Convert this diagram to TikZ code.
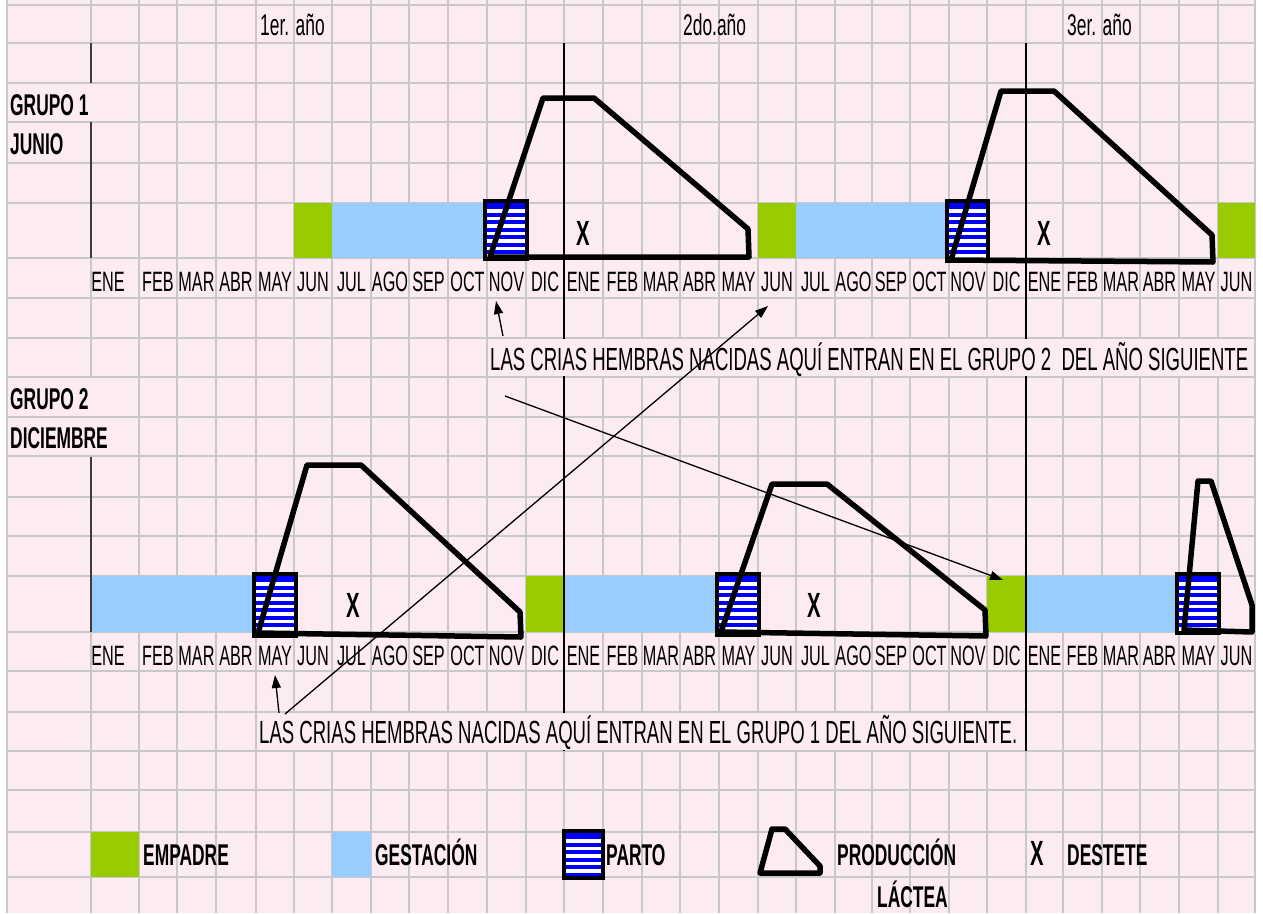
\documentclass[tikz,border=0pt]{standalone}
\usepackage{fontspec}
\setmainfont{Liberation Sans}[FakeStretch=0.58]
\usetikzlibrary{arrows.meta}

\definecolor{sheetpink}{RGB}{253,235,243}
\definecolor{gridgrey}{RGB}{200,200,200}
\definecolor{empadre}{RGB}{153,204,0}
\definecolor{gestacion}{RGB}{153,204,255}
\definecolor{partoblue}{RGB}{0,0,255}
\definecolor{axisgrey}{RGB}{60,60,60}

\tikzset{
  gridline/.style={draw=gridgrey, line width=1.5pt},
  lbl/.style={anchor=base west, inner sep=0pt, font=\fontsize{32}{32}\selectfont},
  mes/.style={anchor=base, inner sep=0pt, font=\fontsize{28}{28}\selectfont},
  grp/.style={anchor=base west, inner sep=0pt, font=\bfseries\fontsize{30}{30}\selectfont},
  anio/.style={anchor=base west, inner sep=0pt, font=\fontsize{30}{30}\selectfont},
  destete/.style={anchor=base, inner sep=0pt, font=\bfseries\fontsize{35}{35}\selectfont},
  leyenda/.style={anchor=base west, inner sep=0pt, font=\bfseries\fontsize{30}{30}\selectfont},
  lactea/.style={draw=black, line width=5.5pt, line join=round},
  flecha/.style={draw=black, line width=1.3pt, -{Triangle[length=13pt,width=9pt]}},
  divisor/.style={draw=black, line width=2pt},
  eje/.style={draw=axisgrey, line width=1.5pt},
  tapa/.style={fill=sheetpink},
}

% striped calving box: x1 y1 x2 y2
\newcommand{\partobox}[4]{%
  \begin{scope}
    \clip (#1,#2) rectangle (#3,#4);
    \fill[partoblue] (#1,#2) rectangle (#3,#4);
    \foreach \k in {0,...,8}
      \fill[white] (#1,#2+8+7.5*\k) rectangle (#3,#2+11.5+7.5*\k);
  \end{scope}
  \draw[line width=4pt] (#1,#2) rectangle (#3,#4);
}

\begin{document}
\begin{tikzpicture}[x=1pt,y=-1pt]
\useasboundingbox (0,0) rectangle (1263,913);

% sheet background
\fill[sheetpink] (0,0) rectangle (1263,913);
\fill[white] (0,0) rectangle (6,913);
\fill[white] (1256,0) rectangle (1263,913);

% cell grid
\foreach \x in {7,91,139,177,216,256,294,332,371,409,448,487,526,564,603,642,680,719,758,796,835,872,910,949,987,1026,1063,1102,1140,1179,1218,1255}
  \draw[gridline] (\x,0) -- (\x,913);
\foreach \y in {5,43,83,122,163,203,258,298,338,377,417,456,497,536,576,632,671,712,751,790,832,877}
  \draw[gridline] (7,\y) -- (1255,\y);

% group 1 cycle bar
\fill[empadre] (294,203) rectangle (332,258);
\fill[empadre] (758,203) rectangle (796,258);
\fill[empadre] (1218,203) rectangle (1255,258);
\fill[gestacion] (332,203) rectangle (487,258);
\fill[gestacion] (796,203) rectangle (949,258);
\partobox{485}{201}{527}{259}
\partobox{947}{201}{988}{261}

% group 2 cycle bar
\fill[gestacion] (91,576) rectangle (256,632);
\fill[gestacion] (564,576) rectangle (719,632);
\fill[gestacion] (1026,576) rectangle (1179,632);
\fill[empadre] (526,576) rectangle (564,632);
\fill[empadre] (987,576) rectangle (1026,632);
\partobox{254}{574}{296}{636}
\partobox{717}{574}{759}{635}
\partobox{1177}{574}{1219}{633}

% lactation curves
\draw[lactea] (490,257) -- (543,98) -- (594,98) -- (748,229) -- (749,257) -- cycle;
\draw[lactea] (951,260) -- (1001,91) -- (1054,91) -- (1212,235) -- (1213,262) -- cycle;
\draw[lactea] (258,633) -- (307,465) -- (361,465) -- (520,612) -- (521,637) -- cycle;
\draw[lactea] (721,632) -- (772,484) -- (827,484) -- (985,610) -- (986,636) -- cycle;
\draw[lactea] (1184,630) -- (1198,481) -- (1211,481) -- (1252,605) -- (1252,632) -- cycle;

% time axes and year dividers
\draw[eje] (91,43) -- (91,83);
\draw[eje] (91,122) -- (91,258);
\draw[eje] (91,457) -- (91,632);
\draw[divisor] (564,43) -- (564,751);
\draw[divisor] (1026,43) -- (1026,751);

% text cells that hide the grid underneath
\fill[tapa] (8,84) rectangle (138,121);
\fill[tapa] (8,378) rectangle (138,416);
\fill[tapa] (8,418) rectangle (138,455);
\fill[tapa] (488,339) rectangle (1254,376);
\fill[tapa] (257,713) rectangle (1024,750);

% year headings
\node[anio] (anio1) at (260,35) {1er. año};
\node[anio] (anio2) at (683,35) {2do.año};
\node[anio] (anio3) at (1067,35) {3er. año};

% group names
\node[grp] (g1a) at (10,115) {GRUPO 1};
\node[grp] (g1b) at (10,154) {JUNIO};
\node[grp] (g2a) at (10,409) {GRUPO 2};
\node[grp] (g2b) at (10,448) {DICIEMBRE};

% month rows
\foreach \cx/\m [count=\i] in {108/ENE,158/FEB,196.5/MAR,236/ABR,275/MAY,313/JUN,351.5/JUL,390/AGO,428.5/SEP,467.5/OCT,506.5/NOV,545/DIC,583.5/ENE,622.5/FEB,661/MAR,699.5/ABR,738.5/MAY,777/JUN,815.5/JUL,853.5/AGO,891/SEP,929.5/OCT,968/NOV,1006.5/DIC,1044.5/ENE,1082.5/FEB,1121/MAR,1159.5/ABR,1198.5/MAY,1236.5/JUN}{
  \node[mes] (ma\i) at (\cx,291) {\m};
  \node[mes] (mb\i) at (\cx,665) {\m};
}

% weaning marks
\node[destete] (x1) at (583,245) {X};
\node[destete] (x2) at (1044,245) {X};
\node[destete] (x3) at (353,617) {X};
\node[destete] (x4) at (814,617) {X};

% notes
\node[lbl] (nota1) at (490,370) {LAS CRIAS HEMBRAS NACIDAS AQUÍ ENTRAN EN EL GRUPO 2~ DEL AÑO SIGUIENTE};
\node[lbl] (nota2) at (259,743) {LAS CRIAS HEMBRAS NACIDAS AQUÍ ENTRAN EN EL GRUPO 1 DEL AÑO SIGUIENTE.};

% arrows from the notes
\coordinate (a1s) at (503,336);
\coordinate (a1e) at (496,301);
\coordinate (a2s) at (505,396);
\coordinate (a2e) at (1003,580);
\coordinate (a3s) at (279,713);
\coordinate (a3e) at (275,675);
\coordinate (a4s) at (285,714);
\coordinate (a4e) at (768,306);
\draw[flecha] (a1s) -- (a1e);
\draw[flecha] (a2s) -- (a2e);
\draw[flecha] (a3s) -- (a3e);
\draw[flecha] (a4s) -- (a4e);

% legend
\fill[empadre] (91,832) rectangle (139,877);
\node[leyenda] (lemp) at (143,865) {EMPADRE};
\fill[gestacion] (332,832) rectangle (371,877);
\node[leyenda] (lges) at (375,865) {GESTACIÓN};
\partobox{564}{831}{603}{878}
\node[leyenda] (lpar) at (606,865) {PARTO};
\draw[lactea] (760,873) -- (772,829) -- (785,829) -- (820,866) -- (820,873) -- cycle;
\node[leyenda] (lpro) at (837,865) {PRODUCCIÓN};
\node[leyenda] (llac) at (877,907) {LÁCTEA};
\node[destete] (lx) at (1037,865) {X};
\node[leyenda] (ldes) at (1067,865) {DESTETE};
\end{tikzpicture}
\end{document}
